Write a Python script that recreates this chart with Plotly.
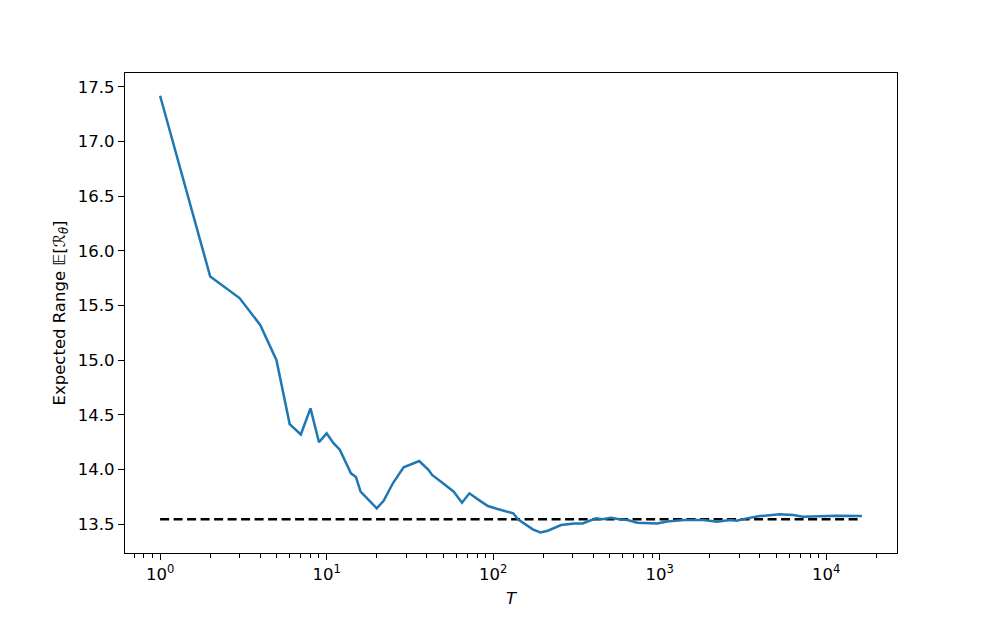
import numpy as np
import plotly.graph_objects as go

# horizon T and the expected range
T = [1, 2, 3, 4, 5, 6, 7, 8, 9, 10, 11, 12, 14, 15, 16, 20, 22, 25, 29, 36,
     41, 43, 50, 58, 65, 72, 81, 93, 105, 123, 132, 141, 162, 173, 192, 213,
     256, 280, 307, 345, 369, 414, 454, 509, 571, 640, 734, 967, 1109, 1395,
     1837, 2205, 2650, 2902, 3330, 3998, 5261, 6326, 7260, 9120, 11470, 16384]
expected_range = [17.42, 15.765, 15.568, 15.32, 15.0, 14.415, 14.32, 14.559, 14.248, 14.33,
                  14.24, 14.18, 13.964, 13.93, 13.796, 13.644, 13.713, 13.873, 14.019, 14.077,
                  13.994, 13.949, 13.873, 13.796, 13.695, 13.781, 13.726, 13.665, 13.64, 13.613,
                  13.598, 13.543, 13.482, 13.451, 13.424, 13.439, 13.491, 13.497, 13.506, 13.506,
                  13.521, 13.552, 13.543, 13.558, 13.543, 13.536, 13.512, 13.506, 13.524, 13.536,
                  13.536, 13.521, 13.536, 13.53, 13.552, 13.573, 13.589, 13.583, 13.567, 13.573,
                  13.576, 13.573]
limit_value = 13.545

x_tickvals = [1, 10, 100, 1000, 10000]
x_ticktext = ['10<sup>0</sup>', '10<sup>1</sup>', '10<sup>2</sup>', '10<sup>3</sup>', '10<sup>4</sup>']
y_tickvals = [13.5, 14.0, 14.5, 15.0, 15.5, 16.0, 16.5, 17.0, 17.5]

# minor ticks at 2..9 of every decade, like matplotlib's log locator
minor_vals = [m * 10 ** d for d in range(-1, 5) for m in range(2, 10)]

font = dict(family='DejaVu Sans', size=16.5, color='black')

fig = go.Figure()
fig.add_trace(go.Scatter(x=[T[0], T[-1]], y=[limit_value, limit_value], mode='lines',
                         line=dict(color='black', width=2.5, dash='9px,4.5px'), showlegend=False))
fig.add_trace(go.Scatter(x=T, y=expected_range, mode='lines',
                         line=dict(color='#1f77b4', width=2.5), showlegend=False))

# the page body adds an 8px margin, so the figure is shrunk by that much
fig.update_layout(width=981, height=607, plot_bgcolor='white', paper_bgcolor='white',
                  font=font, margin=dict(l=117, r=92, t=65, b=62))
fig.update_xaxes(type='log', range=[np.log10(0.6156), np.log10(26620)],
                 tickvals=x_tickvals, ticktext=x_ticktext, ticks='outside', ticklen=6,
                 tickcolor='black', showline=True, linecolor='black', linewidth=1.2, mirror=True,
                 showgrid=False, zeroline=False,
                 minor=dict(tickvals=minor_vals, ticks='outside', ticklen=3.5,
                            tickcolor='black', showgrid=False),
                 title=dict(text='<i>T</i>', standoff=9, font=font))
fig.update_yaxes(range=[13.235, 17.628], tickvals=y_tickvals, tickformat='.1f',
                 ticks='outside', ticklen=6, tickcolor='black',
                 showline=True, linecolor='black', linewidth=1.2, mirror=True,
                 showgrid=False, zeroline=False,
                 title=dict(text='Expected Range 𝔼[<i>ℛ</i><sub><i>θ</i></sub>]', standoff=8, font=font))

fig.write_html('out.html')
